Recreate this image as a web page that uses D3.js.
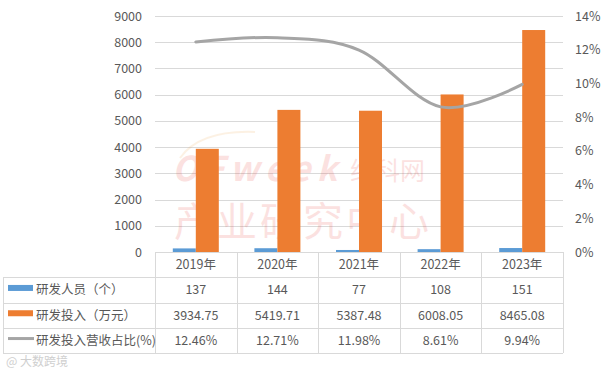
<!DOCTYPE html>
<html>
<head>
<meta charset="utf-8">
<script src="https://cdn.jsdelivr.net/npm/d3@7"></script>
<style>
  body { margin: 0; background: #fff; }
  svg text { font-family: "Noto Sans CJK SC", "Noto Sans", sans-serif; }
</style>
</head>
<body>
<div id="chart"></div>
<script>
const years = ["2019年", "2020年", "2021年", "2022年", "2023年"];
const staff = [137, 144, 77, 108, 151];
const invest = [3934.75, 5419.71, 5387.48, 6008.05, 8465.08];
const ratio = [12.46, 12.71, 11.98, 8.61, 9.94];
const staffLabels = ["137", "144", "77", "108", "151"];
const investLabels = ["3934.75", "5419.71", "5387.48", "6008.05", "8465.08"];
const ratioLabels = ["12.46%", "12.71%", "11.98%", "8.61%", "9.94%"];
const seriesNames = ["研发人员（个）", "研发投入（万元）", "研发投入营收占比(%)"];

const width = 607, height = 370;
const plotLeft = 155, plotRight = 563, plotTop = 16, plotBottom = 252;
const tableLeft = 3;
const rowH = 25.3;

const svg = d3.select("#chart").append("svg")
  .attr("width", width)
  .attr("height", height);

const x = d3.scaleBand().domain(years).range([plotLeft, plotRight]);
const y = d3.scaleLinear().domain([0, 9000]).range([plotBottom, plotTop]);
const y2 = d3.scaleLinear().domain([0, 14]).range([plotBottom, plotTop]);

// gridlines
svg.append("g").selectAll("line")
  .data(y.ticks(9))
  .enter().append("line")
  .attr("x1", plotLeft).attr("x2", plotRight)
  .attr("y1", d => Math.round(y(d)) + 0.5)
  .attr("y2", d => Math.round(y(d)) + 0.5)
  .attr("stroke", "#d9d9d9");

// watermark
const wm = svg.append("g").attr("opacity", 0.14);
wm.append("path")
  .attr("d", "M180,158 Q200,130 255,132")
  .attr("fill", "none").attr("stroke", "#f0a040").attr("stroke-width", 2);
wm.append("text")
  .attr("x", 172).attr("y", 181)
  .attr("font-size", 34).attr("font-weight", "bold").attr("font-style", "italic")
  .attr("fill", "#e8302a")
  .attr("textLength", 165)
  .text("OFweek");
wm.append("text")
  .attr("x", 350).attr("y", 180)
  .attr("font-size", 25)
  .attr("fill", "#e8302a")
  .text("维科网");
wm.append("text")
  .attr("x", 174).attr("y", 236)
  .attr("font-size", 40)
  .attr("fill", "#e8302a")
  .attr("textLength", 255)
  .text("产业研究中心");

// left axis labels
svg.append("g").selectAll("text")
  .data(y.ticks(9))
  .enter().append("text")
  .attr("x", 142)
  .attr("y", d => y(d) + 4.5)
  .attr("text-anchor", "end")
  .attr("font-size", 12.5)
  .attr("fill", "#595959")
  .text(d => d);

// right axis labels
svg.append("g").selectAll("text")
  .data(d3.range(0, 15, 2))
  .enter().append("text")
  .attr("x", 575)
  .attr("y", d => y2(d) + 4.5)
  .attr("font-size", 12.5)
  .attr("fill", "#595959")
  .text(d => d + "%");

// bars
const barW = 23;
svg.append("g").selectAll("rect")
  .data(staff)
  .enter().append("rect")
  .attr("x", (d, i) => x(years[i]) + x.bandwidth() / 2 - barW)
  .attr("y", d => y(d))
  .attr("width", barW)
  .attr("height", d => plotBottom - y(d))
  .attr("fill", "#5b9bd5");

svg.append("g").selectAll("rect")
  .data(invest)
  .enter().append("rect")
  .attr("x", (d, i) => x(years[i]) + x.bandwidth() / 2)
  .attr("y", d => y(d))
  .attr("width", barW)
  .attr("height", d => plotBottom - y(d))
  .attr("fill", "#ed7d31");

// line
const line = d3.line()
  .x((d, i) => x(years[i]) + x.bandwidth() / 2)
  .y(d => y2(d))
  .curve(d3.curveCardinal.tension(0));
svg.append("path")
  .datum(ratio)
  .attr("d", line)
  .attr("fill", "none")
  .attr("stroke", "#a5a5a5")
  .attr("stroke-width", 3)
  .attr("stroke-linecap", "round");

// data table
const tbl = svg.append("g");
const border = "#d9d9d9";
const rowsY = [0, 1, 2, 3, 4].map(i => plotBottom + i * rowH);

tbl.append("line")
  .attr("x1", plotLeft).attr("x2", plotRight)
  .attr("y1", plotBottom + 0.5).attr("y2", plotBottom + 0.5)
  .attr("stroke", border);
rowsY.slice(1).forEach(yy => {
  tbl.append("line")
    .attr("x1", tableLeft).attr("x2", plotRight)
    .attr("y1", Math.round(yy) + 0.5).attr("y2", Math.round(yy) + 0.5)
    .attr("stroke", border);
});
years.forEach(yr => {
  tbl.append("line")
    .attr("x1", Math.round(x(yr)) + 0.5).attr("x2", Math.round(x(yr)) + 0.5)
    .attr("y1", plotBottom).attr("y2", Math.round(rowsY[4]))
    .attr("stroke", border);
});
tbl.append("line")
  .attr("x1", plotRight + 0.5).attr("x2", plotRight + 0.5)
  .attr("y1", plotBottom).attr("y2", Math.round(rowsY[4]))
  .attr("stroke", border);
tbl.append("line")
  .attr("x1", tableLeft + 0.5).attr("x2", tableLeft + 0.5)
  .attr("y1", Math.round(rowsY[1])).attr("y2", Math.round(rowsY[4]))
  .attr("stroke", border);

// header
tbl.selectAll("text.hd")
  .data(years)
  .enter().append("text")
  .attr("class", "hd")
  .attr("x", d => x(d) + x.bandwidth() / 2)
  .attr("y", rowsY[0] + rowH / 2 + 4.5)
  .attr("text-anchor", "middle")
  .attr("font-size", 12.5)
  .attr("fill", "#595959")
  .text(d => d);

const rows = [staffLabels, investLabels, ratioLabels];
rows.forEach((vals, r) => {
  tbl.append("g").selectAll("text")
    .data(vals)
    .enter().append("text")
    .attr("x", (d, i) => x(years[i]) + x.bandwidth() / 2)
    .attr("y", rowsY[r + 1] + rowH / 2 + 4.5)
    .attr("text-anchor", "middle")
    .attr("font-size", 12.5)
    .attr("fill", "#595959")
    .text(d => d);
});

// legend keys in table
const keyColors = ["#5b9bd5", "#ed7d31", "#a5a5a5"];
seriesNames.forEach((name, r) => {
  const cy = rowsY[r + 1] + rowH / 2;
  if (r < 2) {
    tbl.append("rect")
      .attr("x", 8).attr("y", cy - 5)
      .attr("width", 25).attr("height", 6)
      .attr("fill", keyColors[r]);
  } else {
    tbl.append("line")
      .attr("x1", 8).attr("x2", 34)
      .attr("y1", cy - 2).attr("y2", cy - 2)
      .attr("stroke", keyColors[r]).attr("stroke-width", 3);
  }
  tbl.append("text")
    .attr("x", 36)
    .attr("y", cy + 4.5)
    .attr("font-size", 12.5)
    .attr("fill", "#595959")
    .text(name);
});

// corner watermark
svg.append("text")
  .attr("x", 6).attr("y", 366)
  .attr("font-size", 12)
  .attr("fill", "#cfcfcf")
  .text("@ 大数跨境");
</script>
</body>
</html>
